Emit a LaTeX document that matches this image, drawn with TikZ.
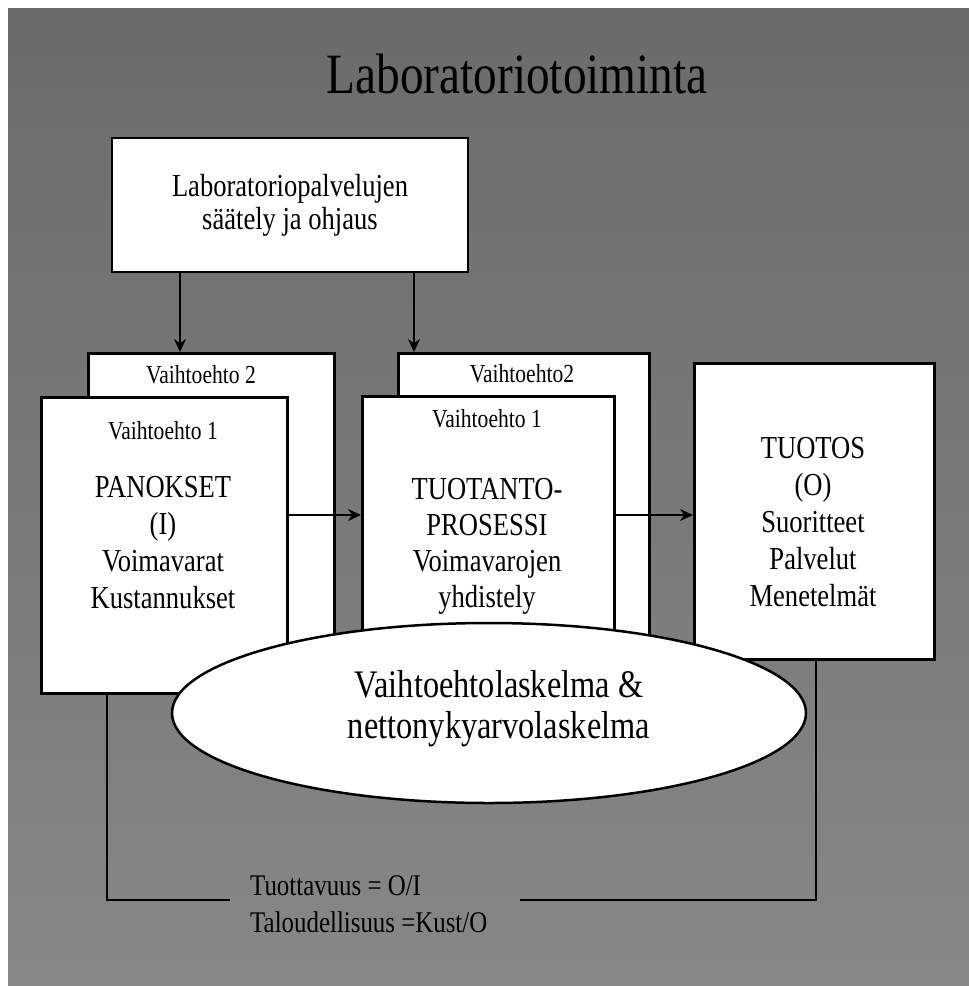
\documentclass[tikz,border=0pt]{standalone}
\usepackage{fontspec}
\setmainfont{Liberation Serif}[FakeStretch=0.83]
\usetikzlibrary{arrows.meta,shapes.geometric}
\definecolor{bgtop}{gray}{0.42}
\definecolor{bgbot}{gray}{0.53}
\begin{document}
\begin{tikzpicture}[x=1pt,y=-1pt,
  box/.style={draw=black,line width=2.5pt,fill=white,inner sep=0pt},
  conn/.style={line width=2pt},
  arr/.style={conn,-{Stealth[length=13pt,width=12pt]}},
  altlbl/.style={font=\fontsize{26}{30}\selectfont,inner sep=0pt,anchor=base},
  boxtxt/.style={font=\fontsize{32}{37}\selectfont,inner sep=0pt,align=center,anchor=north},
  bottxt/.style={font=\fontsize{30}{36}\selectfont,inner sep=0pt,anchor=base west}]
\useasboundingbox (0,0) rectangle (969,986);
\fill[white] (0,0) rectangle (969,986);
\shade[top color=bgtop,bottom color=bgbot] (8,8) rectangle (969,986);

% title
\node[font=\fontsize{57}{64}\selectfont,inner sep=0pt,anchor=base] (title) at (517,93) {Laboratoriotoiminta};

% control box
\node[box,minimum width=356pt,minimum height=134pt,align=center,
      font=\fontsize{32}{33}\selectfont] (ctrl) at (290,205)
      {Laboratoriopalvelujen\\säätely ja ohjaus};

% back boxes (Vaihtoehto 2)
\node[box,anchor=north west,minimum width=246pt,minimum height=328pt] (alta) at (87,352) {};
\node[box,anchor=north west,minimum width=251pt,minimum height=308pt] (altb) at (397,352) {};
\node[altlbl] (altalbl) at (201,383) {Vaihtoehto 2};
\node[altlbl] (altblbl) at (522,382) {Vaihtoehto2};

% down arrows
\coordinate (dA) at (180,0);
\coordinate (dB) at (414,0);
\draw[arr] (dA |- ctrl.south) -- (dA |- alta.north);
\draw[arr] (dB |- ctrl.south) -- (dB |- altb.north);

% front boxes (Vaihtoehto 1)
\node[box,anchor=north west,minimum width=246pt,minimum height=296pt] (inp) at (40,396) {};
\node[altlbl] (inplbl) at (163,439) {Vaihtoehto 1};
\node[boxtxt] (inptxt) at (163,476) {PANOKSET\\(I)\\Voimavarat\\Kustannukset};

\node[box,anchor=north west,minimum width=252pt,minimum height=265pt] (proc) at (361,395) {};
\node[altlbl] (proclbl) at (487,427) {Vaihtoehto 1};
\node[boxtxt,font=\fontsize{32}{36}\selectfont] (proctxt) at (487,478) {TUOTANTO-\\PROSESSI\\Voimavarojen\\yhdistely};

% output box
\node[box,anchor=north west,minimum width=240pt,minimum height=296pt] (out) at (693,362) {};
\node[boxtxt] (outtxt) at (813,437) {TUOTOS\\(O)\\Suoritteet\\Palvelut\\Menetelmät};

% horizontal arrows
\coordinate (ay) at (0,515);
\draw[arr] (inp.east |- ay) -- (proc.west |- ay);
\draw[arr] (proc.east |- ay) -- (out.west |- ay);

% feedback lines
\coordinate (fbL) at (107,900);
\coordinate (fbLend) at (230,900);
\coordinate (fbR) at (816,900);
\coordinate (fbRend) at (520,900);
\draw[conn] (fbL |- inp.south) -- (fbL) -- (fbLend);
\draw[conn] (fbR |- out.south) -- (fbR) -- (fbRend);

% ellipse
\node[box,ellipse,minimum width=634pt,minimum height=180pt] (calc) at (489,713) {};
\node[font=\fontsize{39}{41}\selectfont,inner sep=0pt,align=center] (calctxt) at (499,709)
  {Vaihtoehtolaskelma \&\\nettonykyarvolaskelma};

% bottom formulas
\node[bottxt] (prod) at (250,895) {Tuottavuus = O/I};
\node[bottxt] (econ) at (250,932) {Taloudellisuus =Kust/O};
\end{tikzpicture}
\end{document}
